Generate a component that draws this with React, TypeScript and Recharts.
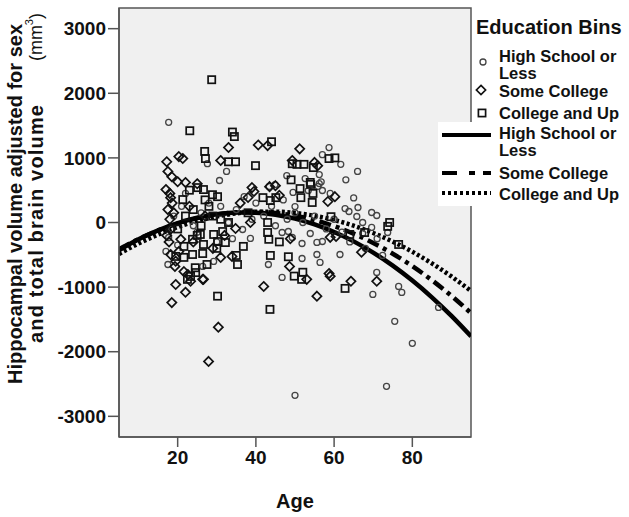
import React from "react";
import {
  ComposedChart,
  Scatter,
  Line,
  XAxis,
  YAxis,
  ReferenceArea,
  Label,
} from "recharts";

// age, adjusted hippocampal volume (mm3)
const highSchoolPoints: [number, number][] = [
  [17.7, 1550], [27.6, 910], [32.5, 790], [30.7, 650], [58.7, 1160], [57, 1050], [61.7, 900],
  [63, 660], [66, 790], [47.9, 725], [52.6, 680], [55.9, 560], [56.7, 630], [43.4, 557],
  [44.9, 587], [49.5, 465], [53.4, 495], [50, 247], [56.2, 742], [56.2, 603], [57, 495],
  [62.8, 216], [63.8, 170], [66.1, 232], [69.6, 155], [70.9, 108], [65.8, 93], [73.7, -155],
  [67.3, 0], [69.6, -77], [53.9, -170], [55.6, -309], [57, -294], [55.6, -495], [56.4, -618],
  [61.5, -495], [72.4, -510], [67.3, -170], [70.9, -773], [69.9, -1113], [76.5, -990],
  [77.3, -1082], [75.5, -1530], [80, -1870], [73.4, -2535], [50, -2675], [86.7, -1314],
  [36.6, -108], [38.6, -247], [43.2, -650], [51.8, -557], [46.7, -850], [46.7, -155],
  [48.3, -139], [49.3, -232], [51.8, -325], [17, -448], [17.7, -232], [17.5, -650],
  [29.2, -603], [26.4, -680], [18.5, -100], [19, 100], [21, 250], [24, -50], [26, 150],
  [28, 300], [30, -300], [33, 0], [35, 200], [37, 400], [40, 300], [42, 100], [45, -50],
  [48, 50], [50, 150], [52, 0], [55, 100], [58, -100], [60, 50], [62, -150], [64, -300],
  [68, -400], [20, -350], [22, 450], [25, -150], [31, 250], [34, -250], [39, 50], [44, 250],
  [47, 350], [59, 450], [65, 380], [71, -250],
];

const someCollegePoints: [number, number][] = [
  [17.2, 940], [20.3, 1020], [21.3, 990], [31, 960], [33, 1160], [40.6, 1200], [43, 1190],
  [51.2, 1140], [49.3, 960], [55, 930], [55.8, 880], [17.5, 790], [18.5, 710], [20, 630],
  [22, 620], [17, 510], [18.2, 385], [43.5, 555], [45, 570], [39, 540], [39.5, 480], [38, 387],
  [60.2, 400], [58.4, 325], [18.2, -495], [20.3, -450], [20.8, -260], [19.3, -680],
  [21.6, -760], [22.6, -805], [26.4, -880], [23.3, -910], [19.5, -960], [22, -1080],
  [18.5, -1240], [30.4, -1620], [27.9, -2150], [42, -990], [55.6, -1140], [64.3, -910],
  [70.9, -910], [58.7, -790], [59, -830], [53, -880], [48.6, -680], [48.8, -250], [33.9, -525],
  [31, -540], [34.8, -93], [38.6, 0], [59, -230], [60.5, -215], [67, -460], [26.6, -880],
  [17.5, 200], [18, 50], [18.3, -100], [17.8, -300], [18.6, 300], [19, 150], [17.2, -200],
  [18, 450], [19.5, -600], [24, -300], [27, 100], [29, -400], [32, -200], [36, 300], [23, 250],
  [46, 420], [25, 600],
];

const collegePoints: [number, number][] = [
  [28.7, 2210], [23.1, 1420], [34, 1400], [34.5, 1330], [44, 1250], [26.9, 1100], [27.1, 990],
  [33, 940], [34.8, 940], [39.9, 880], [49.3, 910], [50.5, 900], [52.3, 900], [58.7, 990],
  [60.2, 1000], [54.7, 850], [49, 660], [54, 590], [25.1, 540], [26.6, 510], [28.9, 430],
  [30.2, 400], [21.3, 355], [41.8, 385], [45.1, 385], [43.7, 340], [51.5, 385], [54.4, 310],
  [54.6, 450], [51.3, 525], [53.9, 620], [59.2, 90], [73.7, -60], [76.5, -340], [74.2, 0],
  [31.5, -140], [29.2, -185], [30.2, -295], [32.2, -310], [23.8, -260], [25.8, -185],
  [26.6, -340], [21.6, -370], [19.5, -525], [21.6, -540], [23.8, -495], [26.4, -480],
  [22.5, -880], [23.3, -835], [24.6, -775], [30.2, -1140], [43.6, -1345], [35.3, -650],
  [35, -510], [36.8, -370], [43, 0], [43, -155], [43.3, -260], [43.7, -510], [48.3, -530],
  [49.8, -830], [52, -770], [51.7, -880], [62.8, -1020], [64, -185], [67.8, -155], [33, 0],
  [22, 100], [24, 200], [26, -50], [28, 250], [25, -200], [27, 350], [29, 100], [23, 500],
  [31, 50], [30, -400], [27.5, -650], [24.5, -700], [20, -100], [38, 150], [46, -300],
];

// fitted quadratic curves
const curveAges = [5, 10, 15, 20, 25, 30, 35, 40, 45, 50, 55, 60, 65, 70, 75, 80, 85, 90, 95];
const highSchoolFit = [-429, -260, -121, -10, 73, 127, 153, 150, 119, 59, -30, -147, -292, -466, -668, -899, -1158, -1446, -1762];
const someCollegeFit = [-413, -256, -123, -16, 67, 125, 157, 165, 147, 105, 37, -56, -173, -316, -483, -676, -893, -1136, -1403];
const collegeFit = [-487, -325, -187, -71, 23, 93, 141, 166, 168, 148, 104, 39, -50, -162, -296, -453, -633, -835, -1060];

const xTicks = [20, 40, 60, 80];
const yTicks = [-3000, -2000, -1000, 0, 1000, 2000, 3000];

const FONT = "'Liberation Sans', Arial, sans-serif";

const toRows = (pts: [number, number][]) => pts.map(([age, value]) => ({ age, value }));
const toCurve = (vals: number[]) => curveAges.map((age, i) => ({ age, value: vals[i] }));

const CircleDot = (p: any) => (
  <circle cx={p.cx} cy={p.cy} r={3} fill="none" stroke="#444" strokeWidth={1.3} />
);
const DiamondDot = (p: any) => {
  const { cx, cy } = p;
  const s = 4.6;
  return (
    <path
      d={`M${cx},${cy - s}L${cx + s},${cy}L${cx},${cy + s}L${cx - s},${cy}Z`}
      fill="none"
      stroke="#111"
      strokeWidth={1.7}
    />
  );
};
const SquareDot = (p: any) => (
  <rect x={p.cx - 3.6} y={p.cy - 3.6} width={7.2} height={7.2} fill="none" stroke="#111" strokeWidth={1.7} />
);

const YTitle = () => (
  <g fontFamily={FONT} fontWeight="bold" fontSize={20} fill="#111">
    <text x={15} y={204} transform="rotate(-90 15 204)" textAnchor="middle" dominantBaseline="central">
      Hippocampal volume adjusted for sex
    </text>
    <text
      x={36}
      y={343}
      transform="rotate(-90 36 343)"
      textAnchor="start"
      dominantBaseline="central"
      textLength={238}
      lengthAdjust="spacing"
    >
      and total brain volume
    </text>
    <text x={36} y={13} transform="rotate(-90 36 13)" textAnchor="end" dominantBaseline="central" fontWeight="normal" fontSize={18}>
      (mm<tspan dy={-7} fontSize={11}>3</tspan>
      <tspan dy={7}>)</tspan>
    </text>
  </g>
);

function LegendOverlay() {
  const tx = 499;
  const item = { fontSize: 16.5, fontWeight: "bold", fill: "#111" };
  return (
    <svg
      width={629}
      height={517}
      style={{ position: "absolute", left: 0, top: 0, pointerEvents: "none" }}
      fontFamily={FONT}
    >
      <text x={476} y={27} fontSize={20} fontWeight="bold" fill="#111" dominantBaseline="central">
        Education Bins
      </text>
      <circle cx={483} cy={62} r={3} fill="none" stroke="#444" strokeWidth={1.3} />
      <text x={tx} y={55.5} dominantBaseline="central" {...item}>High School or</text>
      <text x={tx} y={72.5} dominantBaseline="central" {...item}>Less</text>
      <path d="M481,85.4L485.6,90L481,94.6L476.4,90Z" fill="none" stroke="#111" strokeWidth={1.7} />
      <text x={tx} y={91} dominantBaseline="central" {...item}>Some College</text>
      <rect x={478.4} y={109.4} width={7.2} height={7.2} fill="none" stroke="#111" strokeWidth={1.7} />
      <text x={tx} y={113} dominantBaseline="central" {...item}>College and Up</text>

      <rect x={438} y={122} width={191} height={84} fill="#fff" />
      <line x1={442} y1={135} x2={491} y2={135} stroke="#000" strokeWidth={4} />
      <text x={tx} y={133} dominantBaseline="central" {...item}>High School or</text>
      <text x={tx} y={150} dominantBaseline="central" {...item}>Less</text>
      <line x1={442} y1={173} x2={491} y2={173} stroke="#000" strokeWidth={4} strokeDasharray="15 12 6 8 8" />
      <text x={tx} y={173} dominantBaseline="central" {...item}>Some College</text>
      <line x1={442} y1={193} x2={491} y2={193} stroke="#000" strokeWidth={4} strokeDasharray="3 3" />
      <text x={tx} y={194} dominantBaseline="central" {...item}>College and Up</text>
    </svg>
  );
}

export default function App() {
  const tickStyle = { fontFamily: FONT, fontWeight: "bold", fontSize: 19, fill: "#111" };
  return (
    <div style={{ position: "absolute", left: 0, top: 0, width: 629, height: 517, background: "#fff" }}>
      <ComposedChart
        width={629}
        height={517}
        margin={{ top: 8, right: 158, bottom: 0, left: 0 }}
      >
        <XAxis
          type="number"
          dataKey="age"
          domain={[5, 95]}
          ticks={xTicks}
          allowDataOverflow
          height={80}
          tickSize={10}
          tickMargin={4}
          stroke="#555"
          strokeWidth={1.5}
          tick={tickStyle}
        >
          <Label
            value="Age"
            position="insideBottom"
            offset={9}
            style={{ fontFamily: FONT, fontWeight: "bold", fontSize: 20, fill: "#111" }}
          />
        </XAxis>
        <YAxis
          type="number"
          dataKey="value"
          domain={[-3320, 3320]}
          ticks={yTicks}
          allowDataOverflow
          width={119}
          tickSize={11}
          tickMargin={2}
          stroke="#555"
          strokeWidth={1.5}
          tick={tickStyle}
        >
          <Label content={YTitle} />
        </YAxis>
        <ReferenceArea
          x1={5}
          x2={95}
          y1={-3320}
          y2={3320}
          fill="#f0f0f0"
          fillOpacity={1}
          stroke="#555"
          strokeWidth={1.5}
        />
        <Scatter data={toRows(highSchoolPoints)} shape={CircleDot} isAnimationActive={false} />
        <Scatter data={toRows(someCollegePoints)} shape={DiamondDot} isAnimationActive={false} />
        <Scatter data={toRows(collegePoints)} shape={SquareDot} isAnimationActive={false} />
        <Line
          data={toCurve(highSchoolFit)}
          dataKey="value"
          type="monotone"
          stroke="#000"
          strokeWidth={4.5}
          dot={false}
          isAnimationActive={false}
        />
        <Line
          data={toCurve(someCollegeFit)}
          dataKey="value"
          type="monotone"
          stroke="#000"
          strokeWidth={4.5}
          strokeDasharray="12 5 4 5"
          dot={false}
          isAnimationActive={false}
        />
        <Line
          data={toCurve(collegeFit)}
          dataKey="value"
          type="monotone"
          stroke="#000"
          strokeWidth={4.5}
          strokeDasharray="3 2.5"
          dot={false}
          isAnimationActive={false}
        />
      </ComposedChart>
      <LegendOverlay />
    </div>
  );
}
